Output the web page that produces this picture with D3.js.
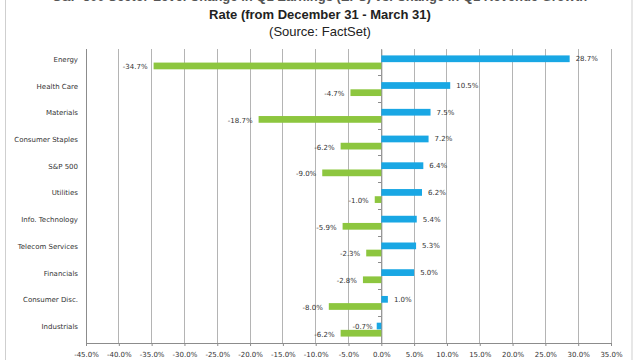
<!DOCTYPE html>
<html><head><meta charset="utf-8">
<script src="https://cdn.jsdelivr.net/npm/d3@7"></script>
<style>body{margin:0;background:#fff}svg{display:block}</style>
</head><body>
<svg id="c" width="640" height="360"></svg>
<script>
const categories = ["Energy","Health Care","Materials","Consumer Staples","S&P 500","Utilities","Info. Technology","Telecom Services","Financials","Consumer Disc.","Industrials"];
const blueValues = [28.7,10.5,7.5,7.2,6.4,6.2,5.4,5.3,5.0,1.0,-0.7];
const greenValues = [-34.7,-4.7,-18.7,-6.2,-9.0,-1.0,-5.9,-2.3,-2.8,-8.0,-6.2];
const xTicks = [-45,-40,-35,-30,-25,-20,-15,-10,-5,0,5,10,15,20,25,30,35];
const titleLines = ["S&P 500 Sector-Level Change in Q1 Earnings (EPS) vs. Change in Q1 Revenue Growth","Rate (from December 31 - March 31)","(Source: FactSet)"];

const svg = d3.select("#c");
const font = "DejaVu Sans, sans-serif";
const blue = "#19a7e4", green = "#8dc63f";
const fmt = v => (v < 0 ? "-" : "") + Math.abs(v).toFixed(1) + "%";

// frame
svg.append("rect").attr("x",5.5).attr("y",-2).attr("width",626.5).attr("height",370)
  .attr("fill","none").attr("stroke","#cfcfcf");

const x = d3.scaleLinear().domain([-45,35]).range([86,611]);
const y = d3.scaleBand().domain(categories).range([49,343]);
const sub = d3.scaleBand().domain(["b","g"]).range([y.bandwidth()*0.24, y.bandwidth()*0.76]).paddingInner(0.06);

// gridlines
svg.append("g").selectAll("line").data(xTicks).join("line")
  .attr("x1",d=>x(d)).attr("x2",d=>x(d)).attr("y1",49).attr("y2",343)
  .attr("stroke",d=>d===-45?"#8c8c8c":"#b4b4b4").attr("stroke-width",1).attr("shape-rendering","crispEdges");

// bottom axis
const xAxis = d3.axisBottom(x).tickValues(xTicks).tickSize(3).tickFormat(fmt);
const gx = svg.append("g").attr("transform","translate(0,343)").call(xAxis);
gx.select(".domain").attr("stroke","#8c8c8c");
gx.selectAll(".tick line").attr("stroke","#8c8c8c");
gx.selectAll("text").attr("font-family",font).attr("font-size",7).attr("fill","#333").attr("dy","1.1em");

// zero axis with category ticks
const yAxis = d3.axisLeft(y).tickSize(0).tickFormat("");
const gy = svg.append("g").attr("transform",`translate(${x(0)},0)`).call(yAxis);
gy.select(".domain").attr("stroke","#8c8c8c");
svg.append("g").selectAll("line").data(categories.slice(1)).join("line")
  .attr("x1",x(0)-3).attr("x2",x(0)).attr("y1",d=>y(d)).attr("y2",d=>y(d))
  .attr("stroke","#8c8c8c").attr("shape-rendering","crispEdges");

// category labels
svg.append("g").selectAll("text").data(categories).join("text")
  .attr("x",78).attr("y",d=>y(d)+y.bandwidth()/2-3).attr("dy","0.35em")
  .attr("text-anchor","end").attr("font-family",font).attr("font-size",7).attr("fill","#333").text(d=>d);

const rows = categories.map((c,i)=>({c,b:blueValues[i],g:greenValues[i]}));

// bars
svg.append("g").selectAll("rect").data(rows).join("rect")
  .attr("x",d=>x(Math.min(0,d.b))).attr("width",d=>Math.abs(x(d.b)-x(0)))
  .attr("y",d=>y(d.c)+sub("b")).attr("height",sub.bandwidth()).attr("fill",blue);
svg.append("g").selectAll("rect").data(rows).join("rect")
  .attr("x",d=>x(Math.min(0,d.g))).attr("width",d=>Math.abs(x(d.g)-x(0)))
  .attr("y",d=>y(d.c)+sub("g")).attr("height",sub.bandwidth()).attr("fill",green);

// value labels
svg.append("g").selectAll("text").data(rows).join("text")
  .attr("x",d=>d.b>=0?x(d.b)+6:x(d.b)-4).attr("text-anchor",d=>d.b>=0?"start":"end")
  .attr("y",d=>y(d.c)+sub("b")+sub.bandwidth()/2).attr("dy","0.35em")
  .attr("font-family",font).attr("font-size",7).attr("fill","#333").text(d=>fmt(d.b));
svg.append("g").selectAll("text").data(rows).join("text")
  .attr("x",d=>x(d.g)-6).attr("text-anchor","end")
  .attr("y",d=>y(d.c)+sub("g")+sub.bandwidth()/2+1).attr("dy","0.35em")
  .attr("font-family",font).attr("font-size",7).attr("fill","#333").text(d=>fmt(d.g));

// titles
const tf = "Liberation Sans, Arial, sans-serif";
svg.append("text").attr("x",320).attr("y",1).attr("text-anchor","middle")
  .attr("font-family",tf).attr("font-size",13).attr("font-weight","bold").attr("fill","#555").text(titleLines[0]);
svg.append("text").attr("x",320).attr("y",19).attr("text-anchor","middle")
  .attr("font-family",tf).attr("font-size",13).attr("font-weight","bold").attr("fill","#222").text(titleLines[1]);
svg.append("text").attr("x",320).attr("y",36).attr("text-anchor","middle")
  .attr("font-family",tf).attr("font-size",13).attr("fill","#222").text(titleLines[2]);
</script>
</body></html>
